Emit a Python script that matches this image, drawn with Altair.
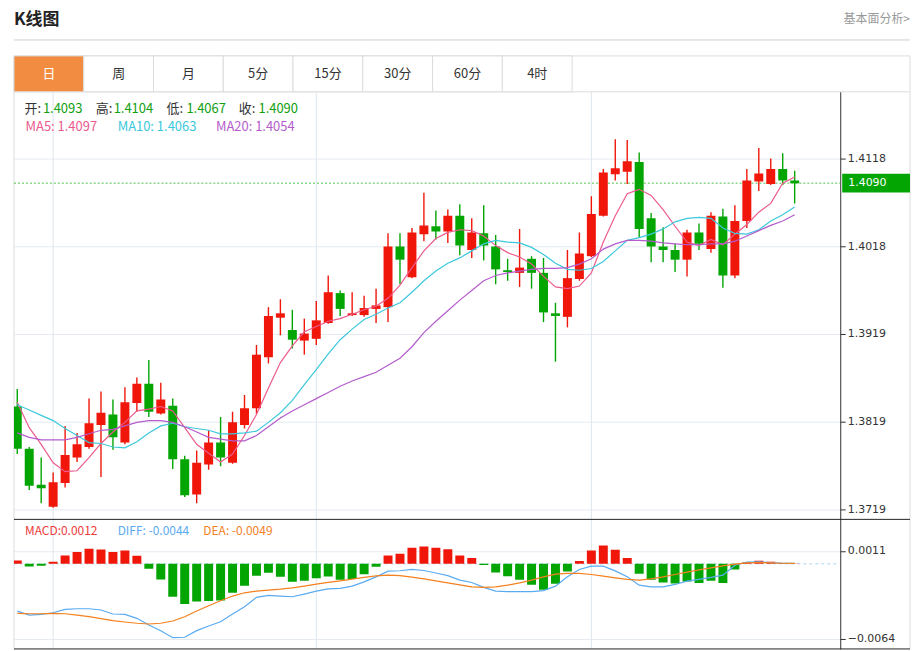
import altair as alt
import pandas as pd
import numpy as np

# ---------------- data ----------------
opens = [1.3836, 1.3788, 1.3747, 1.3722, 1.3749, 1.3778, 1.3790, 1.3815, 1.3827, 1.3795,
         1.3840, 1.3862, 1.3828, 1.3837, 1.3776, 1.3736, 1.3770, 1.3795, 1.3772, 1.3815,
         1.3834, 1.3892, 1.3937, 1.3923, 1.3911, 1.3913, 1.3931, 1.3965, 1.3940, 1.3940,
         1.3947, 1.3949, 1.4018, 1.3983, 1.4032, 1.4041, 1.4035, 1.4053, 1.4014, 1.4033,
         1.4018, 1.3991, 1.3988, 1.4004, 1.3988, 1.3942, 1.3938, 1.3981, 1.4007, 1.4053,
         1.4100, 1.4103, 1.4114, 1.4050, 1.4018, 1.4014, 1.4003, 1.4034, 1.4015, 1.4052,
         1.3985, 1.4047, 1.4092, 1.4089, 1.4106, 1.4093]
closes = [1.3788, 1.3746, 1.3743, 1.3750, 1.3781, 1.3793, 1.3817, 1.3829, 1.3801, 1.3841,
          1.3862, 1.3830, 1.3844, 1.3776, 1.3735, 1.3772, 1.3795, 1.3778, 1.3818, 1.3834,
          1.3895, 1.3939, 1.3942, 1.3912, 1.3919, 1.3934, 1.3966, 1.3947, 1.3942, 1.3948,
          1.3951, 1.4018, 1.4003, 1.4034, 1.4042, 1.4035, 1.4053, 1.4019, 1.4034, 1.4019,
          1.3992, 1.3989, 1.3994, 1.3988, 1.3943, 1.3939, 1.3982, 1.4010, 1.4055, 1.4102,
          1.4107, 1.4115, 1.4038, 1.4018, 1.4014, 1.4003, 1.4034, 1.4021, 1.4053, 1.3985,
          1.4047, 1.4093, 1.4101, 1.4106, 1.4093, 1.4090]
highs = [1.3856, 1.3790, 1.3778, 1.3761, 1.3814, 1.3806, 1.3845, 1.3853, 1.3844, 1.3858,
         1.3869, 1.3889, 1.3863, 1.3845, 1.3780, 1.3786, 1.3809, 1.3824, 1.3830, 1.3849,
         1.3906, 1.3949, 1.3958, 1.3946, 1.3936, 1.3956, 1.3985, 1.3968, 1.3966, 1.3962,
         1.3970, 1.4033, 1.4033, 1.4039, 1.4079, 1.4059, 1.4060, 1.4066, 1.4050, 1.4065,
         1.4031, 1.4004, 1.4038, 1.4007, 1.4005, 1.3954, 1.4014, 1.4034, 1.4075, 1.4106,
         1.4140, 1.4139, 1.4125, 1.4056, 1.4040, 1.4021, 1.4037, 1.4044, 1.4057, 1.4061,
         1.4065, 1.4106, 1.4130, 1.4118, 1.4124, 1.4104]
lows = [1.3782, 1.3741, 1.3726, 1.3721, 1.3744, 1.3773, 1.3788, 1.3756, 1.3787, 1.3793,
        1.3830, 1.3824, 1.3827, 1.3765, 1.3733, 1.3726, 1.3764, 1.3768, 1.3771, 1.3811,
        1.3828, 1.3885, 1.3917, 1.3902, 1.3895, 1.3906, 1.3930, 1.3939, 1.3939, 1.3938,
        1.3931, 1.3932, 1.3975, 1.3982, 1.4024, 1.4026, 1.4022, 1.4008, 1.4005, 1.4002,
        1.3975, 1.3979, 1.3972, 1.3970, 1.3932, 1.3887, 1.3926, 1.3979, 1.4006, 1.4052,
        1.4093, 1.4089, 1.4028, 1.4000, 1.4000, 1.3989, 1.3984, 1.4014, 1.4011, 1.3971,
        1.3982, 1.4039, 1.4081, 1.4088, 1.4088, 1.4067]
ma5 = [1.3841, 1.3812, 1.3793, 1.3772, 1.3762, 1.3763, 1.3778, 1.3794, 1.3807, 1.3818,
       1.3831, 1.3833, 1.3836, 1.3831, 1.3812, 1.3793, 1.3783, 1.3773, 1.3782, 1.3803,
       1.3827, 1.3857, 1.3886, 1.3905, 1.3921, 1.3927, 1.3933, 1.3936, 1.3941, 1.3946,
       1.3950, 1.3959, 1.3974, 1.3994, 1.4013, 1.4027, 1.4034, 1.4037, 1.4036, 1.4030,
       1.4019, 1.4011, 1.4006, 1.3998, 1.3984, 1.3972, 1.3970, 1.3973, 1.3988, 1.4023,
       1.4053, 1.4078, 1.4083, 1.4076, 1.4060, 1.4041, 1.4023, 1.4019, 1.4026, 1.4020,
       1.4032, 1.4043, 1.4057, 1.4067, 1.4090, 1.4097]
ma10 = [1.3838, 1.3832, 1.3826, 1.3820, 1.3811, 1.3803, 1.3795, 1.3794, 1.3790, 1.3789,
        1.3796, 1.3806, 1.3814, 1.3817, 1.3813, 1.3811, 1.3809, 1.3805, 1.3805, 1.3806,
        1.3808, 1.3818, 1.3829, 1.3843, 1.3861, 1.3878, 1.3896, 1.3912, 1.3924, 1.3935,
        1.3941, 1.3948, 1.3954, 1.3966, 1.3979, 1.3990, 1.3999, 1.4005, 1.4013, 1.4021,
        1.4025, 1.4023, 1.4022, 1.4017, 1.4009, 1.3999, 1.3992, 1.3991, 1.3993, 1.4001,
        1.4013, 1.4025, 1.4028, 1.4032, 1.4038, 1.4046, 1.4050, 1.4051, 1.4050, 1.4039,
        1.4033, 1.4032, 1.4037, 1.4047, 1.4054, 1.4063]
ma20 = [1.3806, 1.3801, 1.3798, 1.3798, 1.3798, 1.3801, 1.3805, 1.3809, 1.3810, 1.3814,
        1.3818, 1.3820, 1.3820, 1.3818, 1.3813, 1.3807, 1.3801, 1.3799, 1.3797, 1.3797,
        1.3803, 1.3813, 1.3823, 1.3831, 1.3838, 1.3845, 1.3852, 1.3859, 1.3865, 1.3870,
        1.3875, 1.3883, 1.3891, 1.3904, 1.3920, 1.3933, 1.3945, 1.3957, 1.3968, 1.3979,
        1.3985, 1.3988, 1.3990, 1.3992, 1.3993, 1.3993, 1.3994, 1.3998, 1.4004, 1.4015,
        1.4021, 1.4025, 1.4025, 1.4024, 1.4022, 1.4021, 1.4020, 1.4020, 1.4021, 1.4021,
        1.4024, 1.4030, 1.4036, 1.4042, 1.4047, 1.4054]
diff = [-0.00403, -0.00437, -0.00431, -0.00417, -0.00388, -0.00383, -0.00383, -0.00394, -0.00428, -0.00431,
        -0.00465, -0.00522, -0.00570, -0.00630, -0.00626, -0.00570, -0.00530, -0.00494, -0.00428, -0.00366,
        -0.00286, -0.00269, -0.00275, -0.00281, -0.00258, -0.00233, -0.00213, -0.00210, -0.00190, -0.00154,
        -0.00111, -0.00063, -0.00059, -0.00048, -0.00057, -0.00078, -0.00101, -0.00139, -0.00159, -0.00201,
        -0.00233, -0.00237, -0.00237, -0.00237, -0.00229, -0.00190, -0.00111, -0.00048, -0.00020, -0.00020,
        -0.00060, -0.00111, -0.00182, -0.00196, -0.00196, -0.00176, -0.00148, -0.00133, -0.00116, -0.00097,
        -0.00012, 0.00014, 0.00016, 0.00011, 0.00005, 0.00003]
dea = [-0.00422, -0.00426, -0.00426, -0.00422, -0.00426, -0.00437, -0.00451, -0.00468, -0.00485, -0.00496,
       -0.00507, -0.00513, -0.00507, -0.00488, -0.00451, -0.00403, -0.00358, -0.00315, -0.00275, -0.00247,
       -0.00233, -0.00224, -0.00216, -0.00205, -0.00190, -0.00173, -0.00159, -0.00145, -0.00131, -0.00116,
       -0.00103, -0.00097, -0.00101, -0.00114, -0.00128, -0.00145, -0.00163, -0.00179, -0.00196, -0.00201,
       -0.00196, -0.00182, -0.00162, -0.00139, -0.00111, -0.00088, -0.00082, -0.00082, -0.00091, -0.00105,
       -0.00120, -0.00133, -0.00139, -0.00128, -0.00111, -0.00091, -0.00071, -0.00052, -0.00035, -0.00018,
       -0.00003, 0.00008, 0.00011, 0.00008, 0.00005, 0.00003]
hist = [0.00028, -0.00023, -0.00017, 0.00017, 0.00072, 0.00100, 0.00128, 0.00122, 0.00100, 0.00113,
        0.00068, -0.00043, -0.00134, -0.00281, -0.00343, -0.00321, -0.00318, -0.00313, -0.00247, -0.00188,
        -0.00102, -0.00077, -0.00111, -0.00153, -0.00145, -0.00122, -0.00108, -0.00136, -0.00130, -0.00089,
        -0.00024, 0.00071, 0.00085, 0.00136, 0.00147, 0.00136, 0.00124, 0.00071, 0.00049, -0.00009,
        -0.00074, -0.00105, -0.00136, -0.00179, -0.00222, -0.00170, -0.00066, 0.00023, 0.00113, 0.00156,
        0.00119, 0.00049, -0.00085, -0.00136, -0.00159, -0.00168, -0.00151, -0.00164, -0.00145, -0.00164,
        -0.00049, 0.00014, 0.00027, 0.00017, 0.00007, 0.00002]

tabs = ["日", "周", "月", "5分", "15分", "30分", "60分", "4时"]
month_breaks = [3, 25, 48]
price_ticks = [1.3719, 1.3819, 1.3919, 1.4018, 1.4118]
macd_ticks = [-0.0064, 0.0011]
macd_labels = ["MACD:0.0012", "DIFF: -0.0044", "DEA: -0.0049"]

# ---------------- styling ----------------
CJK = "Noto Sans CJK SC"
NUM = "DejaVu Sans"
RED = "#f0160a"
GREEN = "#03a503"
C_MA5 = "#ec5a8e"
C_MA10 = "#3cc8dc"
C_MA20 = "#b45ccc"
C_DIFF = "#5aabf2"
C_DEA = "#f4801f"
C_MACD = "#ee3b3b"
GRID = "#e4eaf0"
VGRID = "#dde6ee"
BORDER = "#dcdcdc"

PW = 829   # plot width
FW = 899   # full width incl. right axis
HH = 82    # header height
HM = 429   # main panel height
HC = 130   # macd panel height

n = len(opens)
df = pd.DataFrame({"i": list(range(n)), "open": opens, "close": closes, "high": highs,
                   "low": lows, "ma5": ma5, "ma10": ma10, "ma20": ma20,
                   "diff": diff, "dea": dea, "hist": hist})
df["dir"] = np.where(df["close"] >= df["open"], "up", "down")
df["hdir"] = np.where(df["hist"] >= 0, "up", "down")

one = pd.DataFrame({"k": [0]})

xs = alt.Scale(domain=[-0.275, 68.81], nice=False, zero=False, padding=0)
ps = alt.Scale(domain=[1.37077, 1.41939], nice=False, zero=False, padding=0)
ms = alt.Scale(domain=[-0.007259, 0.003791], nice=False, zero=False, padding=0)
cs = alt.Scale(domain=["up", "down"], range=[RED, GREEN])

ax_p = alt.Axis(orient="right", values=price_ticks, format=".4f", title=None, grid=True,
                gridColor=GRID, domainColor="#333333", tickColor="#333333", tickSize=5,
                labelColor="#333333", labelFont=NUM, labelFontSize=11, labelPadding=2)
ax_m = alt.Axis(orient="right", values=macd_ticks, format=".4f", title=None, grid=True,
                gridColor=GRID, domainColor="#333333", tickColor="#333333", tickSize=5,
                labelColor="#333333", labelFont=NUM, labelFontSize=11, labelPadding=2)

X = alt.X("i:Q", scale=xs, axis=None)


def txt(text, x, y, color, size=13, align="left", weight="normal", font=CJK):
    return alt.Chart(one).mark_text(text=text, align=align, baseline="middle", font=font,
                                    fontSize=size, fontWeight=weight, color=color).encode(
        x=alt.value(x), y=alt.value(y))


def vline(x, y1, y2, color, width=1):
    return alt.Chart(one).mark_rule(color=color, strokeWidth=width).encode(
        x=alt.value(x), y=alt.value(y1), y2=alt.value(y2))


def hline(y, x1, x2, color, width=1):
    return alt.Chart(one).mark_rule(color=color, strokeWidth=width).encode(
        y=alt.value(y), x=alt.value(x1), x2=alt.value(x2))


# ---------------- header ----------------
tabs_df = pd.DataFrame({"t": tabs, "ti": list(range(len(tabs))),
                        "ti2": list(range(1, len(tabs) + 1)),
                        "sel": [1] + [0] * (len(tabs) - 1)})
tx = alt.Scale(domain=[0, FW / 70.0], nice=False, zero=False, padding=0)

tab_box = alt.Chart(one).mark_rect(fill="white", stroke=BORDER, strokeWidth=1).encode(
    x=alt.value(0), x2=alt.value(FW), y=alt.value(46), y2=alt.value(82))
tab_rects = alt.Chart(tabs_df).mark_rect(stroke=BORDER, strokeWidth=1).encode(
    x=alt.X("ti:Q", scale=tx, axis=None), x2="ti2:Q",
    y=alt.value(46), y2=alt.value(82),
    fill=alt.condition("datum.sel == 1", alt.value("#f28c40"), alt.value("white")))
tab_text = alt.Chart(tabs_df).transform_calculate(tc="datum.ti + 0.5").mark_text(
    font=CJK, fontSize=13, baseline="middle", align="center").encode(
    x=alt.X("tc:Q", scale=tx, axis=None), y=alt.value(64), text="t:N",
    color=alt.condition("datum.sel == 1", alt.value("white"), alt.value("#333333")))

header = alt.layer(
    txt("K线图", 0, 10, "#222222", size=17, weight="bold"),
    txt("基本面分析>", FW, 9, "#999999", size=12, align="right"),
    hline(30, 0, FW, "#cfcfcf"),
    tab_box, tab_rects, tab_text,
).properties(width=FW, height=HH)

# ---------------- main price panel ----------------
months_df = pd.DataFrame({"i": month_breaks})
mrules = alt.Chart(months_df).mark_rule(color=VGRID).encode(
    x=alt.X("i:Q", scale=xs, axis=None), y=alt.value(0), y2=alt.value(HM))

base = alt.Chart(df)
wicks = base.mark_rule(strokeWidth=1.4, clip=True).encode(
    x=X, y=alt.Y("low:Q", scale=ps, axis=ax_p), y2="high:Q",
    color=alt.Color("dir:N", scale=cs, legend=None))
bodies = base.mark_bar(size=9, clip=True).encode(
    x=X, y=alt.Y("open:Q", scale=ps, axis=ax_p), y2="close:Q",
    color=alt.Color("dir:N", scale=cs, legend=None))
l5 = base.mark_line(color=C_MA5, strokeWidth=1.2, clip=True).encode(
    x=X, y=alt.Y("ma5:Q", scale=ps, axis=ax_p))
l10 = base.mark_line(color=C_MA10, strokeWidth=1.2, clip=True).encode(
    x=X, y=alt.Y("ma10:Q", scale=ps, axis=ax_p))
l20 = base.mark_line(color=C_MA20, strokeWidth=1.2, clip=True).encode(
    x=X, y=alt.Y("ma20:Q", scale=ps, axis=ax_p))

last_df = pd.DataFrame({"p": [closes[-1]], "lab": [f"{closes[-1]:.4f}"]})
last_line = alt.Chart(last_df).mark_rule(color="#4cc24c", strokeDash=[2, 2], strokeWidth=1).encode(
    y=alt.Y("p:Q", scale=ps, axis=ax_p), x=alt.value(0), x2=alt.value(PW))
box_path = "M-1,-0.279L1,-0.279L1,0.279L-1,0.279Z"
last_box = alt.Chart(last_df).mark_point(shape=box_path, size=4624, filled=True, opacity=1,
                                         color=GREEN, strokeWidth=0).encode(
    x=alt.value(865), y=alt.Y("p:Q", scale=ps, axis=ax_p))
last_txt = alt.Chart(last_df).mark_text(align="left", baseline="middle", font=NUM, fontSize=11,
                                        color="white").encode(
    x=alt.value(837), y=alt.Y("p:Q", scale=ps, axis=ax_p), text="lab:N")

VG = "#10a010"
main = alt.layer(
    mrules,
    vline(0, 0, HM, BORDER),
    vline(FW, 0, HM, BORDER),
    last_line,
    wicks, bodies, l5, l10, l20,
    last_box, last_txt,
    txt("开:", 10.5, 17.3, "#333333"), txt(f"{opens[-1]:.4f}", 29, 17.3, VG),
    txt("高:", 82, 17.3, "#333333"), txt(f"{highs[-1]:.4f}", 100, 17.3, VG),
    txt("低:", 153, 17.3, "#333333"), txt(f"{lows[-1]:.4f}", 173, 17.3, VG),
    txt("收:", 225.5, 17.3, "#333333"), txt(f"{closes[-1]:.4f}", 245.3, 17.3, VG),
    txt(f"MA5: {ma5[-1]:.4f}", 11.6, 35, C_MA5),
    txt(f"MA10: {ma10[-1]:.4f}", 104, 35, C_MA10),
    txt(f"MA20: {ma20[-1]:.4f}", 202.6, 35, C_MA20),
).properties(width=PW, height=HM)

# ---------------- MACD panel ----------------
mrules2 = alt.Chart(months_df).mark_rule(color=VGRID).encode(
    x=alt.X("i:Q", scale=xs, axis=None), y=alt.value(0), y2=alt.value(HC))
zero_df = pd.DataFrame({"z": [0.0]})
zero_line = alt.Chart(zero_df).mark_rule(color="#a9d6f2", strokeDash=[3, 3], strokeWidth=1).encode(
    y=alt.Y("z:Q", scale=ms, axis=ax_m), x=alt.value(0), x2=alt.value(PW - 4))
hbars = base.mark_bar(size=9, clip=True).encode(
    x=X, y=alt.Y("hist:Q", scale=ms, axis=ax_m), y2=alt.datum(0),
    color=alt.Color("hdir:N", scale=cs, legend=None))
ldiff = base.mark_line(color=C_DIFF, strokeWidth=1.2, clip=True).encode(
    x=X, y=alt.Y("diff:Q", scale=ms, axis=ax_m))
ldea = base.mark_line(color=C_DEA, strokeWidth=1.2, clip=True).encode(
    x=X, y=alt.Y("dea:Q", scale=ms, axis=ax_m))

macd = alt.layer(
    mrules2,
    vline(0, 0, HC, BORDER),
    vline(FW, 0, HC, BORDER),
    zero_line, hbars, ldiff, ldea,
    txt(macd_labels[0], 11, 11.7, C_MACD, size=12),
    txt(macd_labels[1], 104, 11.7, C_DIFF, size=12),
    txt(macd_labels[2], 190, 11.7, C_DEA, size=12),
    hline(0, 0, FW, "#222222"),
    hline(HC, 0, FW, "#222222"),
).properties(width=PW, height=HC)

chart = alt.vconcat(header, main, macd, spacing=0, bounds="flush").properties(
    padding={"left": 5, "top": 0, "right": 0, "bottom": 0}
).configure_view(stroke="transparent")

chart.save("out.html", embed_options={"renderer": "svg", "actions": False})
